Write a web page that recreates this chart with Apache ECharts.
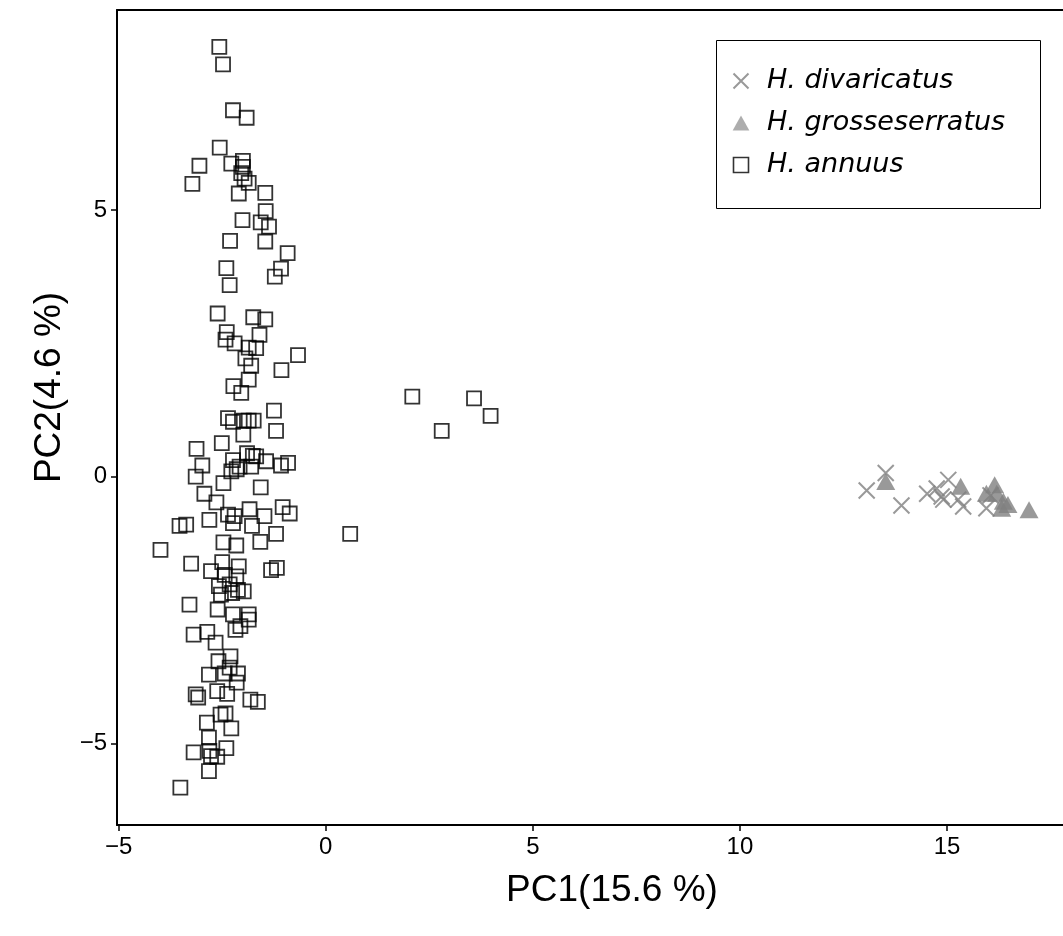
<!DOCTYPE html>
<html>
<head>
<meta charset="utf-8">
<script src="https://cdn.jsdelivr.net/npm/echarts@6/dist/echarts.min.js"></script>
<style>
  html, body { margin: 0; padding: 0; background: #fff; overflow: hidden; }
  #chart { width: 1063px; height: 936px; }
</style>
</head>
<body>
<div id="chart"></div>
<script>
// PCA scores: [PC1, PC2] for each sample
const annuus = [
  [-2.57, 8.06], [-2.48, 7.73], [-2.24, 6.87], [-1.91, 6.73], [-2.56, 6.17],
  [-3.05, 5.83], [-3.22, 5.49], [-2.28, 5.87], [-2.00, 5.92], [-2.00, 5.81],
  [-2.04, 5.69], [-1.96, 5.59], [-1.86, 5.51], [-2.10, 5.31], [-1.46, 5.32],
  [-1.45, 4.98], [-2.01, 4.81], [-1.57, 4.77], [-1.37, 4.69], [-2.31, 4.42],
  [-1.46, 4.41], [-0.92, 4.19], [-2.40, 3.91], [-1.08, 3.90], [-1.23, 3.75],
  [-2.32, 3.59], [-2.61, 3.06], [-1.75, 2.99], [-1.46, 2.95], [-2.39, 2.71],
  [-2.42, 2.57], [-1.60, 2.66], [-2.20, 2.50], [-1.86, 2.42], [-1.68, 2.41],
  [-1.94, 2.22], [-1.80, 2.08], [-0.67, 2.28], [-1.07, 2.00], [-1.86, 1.82],
  [-2.23, 1.70], [-2.04, 1.57], [-1.25, 1.24], [-2.36, 1.10], [-2.24, 1.03],
  [-1.98, 1.05], [-1.86, 1.05], [-1.74, 1.05], [-1.99, 0.79], [-1.20, 0.86],
  [-3.12, 0.52], [-2.51, 0.63], [-2.98, 0.21], [-3.14, 0.00], [-2.24, 0.31],
  [-1.90, 0.44], [-1.76, 0.39], [-1.68, 0.38], [-1.44, 0.29], [-1.08, 0.21],
  [-0.91, 0.26], [-2.15, 0.14], [-2.28, 0.10], [-2.08, 0.19], [-1.80, 0.19],
  [-2.47, -0.12], [-1.57, -0.20], [-2.93, -0.32], [-2.64, -0.48], [-1.84, -0.61],
  [-2.36, -0.71], [-2.20, -0.74], [-1.48, -0.74], [-1.04, -0.57], [-0.87, -0.69],
  [-2.81, -0.81], [-2.24, -0.87], [-1.78, -0.92], [-3.53, -0.92], [-3.37, -0.90],
  [-1.20, -1.07], [-2.47, -1.23], [-2.16, -1.29], [-1.58, -1.22], [-3.99, -1.37],
  [-3.25, -1.63], [-2.77, -1.77], [-2.50, -1.60], [-2.10, -1.68], [-1.32, -1.75],
  [-1.18, -1.71], [-2.44, -1.84], [-2.16, -1.87], [-2.58, -2.05], [-2.32, -2.02],
  [-2.12, -2.12], [-1.98, -2.15], [-2.53, -2.21], [-2.26, -2.18], [-3.29, -2.40],
  [-2.61, -2.49], [-2.24, -2.58], [-1.86, -2.58], [-3.19, -2.96], [-2.86, -2.91],
  [-2.66, -3.11], [-2.18, -2.87], [-2.06, -2.80], [-1.86, -2.68], [-2.30, -3.37],
  [-2.59, -3.46], [-2.32, -3.58], [-2.82, -3.71], [-2.44, -3.69], [-2.12, -3.69],
  [-2.15, -3.86], [-3.14, -4.08], [-3.08, -4.14], [-2.62, -4.02], [-2.38, -4.07],
  [-1.82, -4.18], [-1.64, -4.22], [-2.54, -4.46], [-2.42, -4.44], [-2.87, -4.61],
  [-2.28, -4.72], [-2.82, -4.89], [-3.19, -5.17], [-2.40, -5.09], [-2.81, -5.14],
  [-2.77, -5.24], [-2.62, -5.25], [-2.82, -5.52], [-3.51, -5.83],
  [2.09, 1.50], [3.58, 1.47], [3.98, 1.14], [2.80, 0.86], [0.59, -1.07]
];

const divaricatus = [
  [13.06, -0.26], [13.52, 0.07], [13.90, -0.54], [14.52, -0.32], [14.75, -0.22],
  [14.87, -0.37], [15.03, -0.06], [14.91, -0.43], [15.27, -0.43], [15.39, -0.56],
  [15.95, -0.59], [16.05, -0.35]
];

const grosseserratus = [
  [13.52, -0.09], [15.33, -0.18], [15.95, -0.31], [16.15, -0.15], [16.20, -0.31],
  [16.36, -0.46], [16.32, -0.59], [16.47, -0.52], [16.98, -0.62]
];

const xTicks = [-5, 0, 5, 10, 15];
const yTicks = [-5, 0, 5];

const speciesNames = ['H. divaricatus', 'H. grosseserratus', 'H. annuus'];

const GREY = '#808080';
const CROSS = 'path://M0,0L10,10M10,0L0,10';
const TRI = 'path://M5,0L10,9L0,9Z';
const SQUARE = 'path://M0,0L10,0L10,10L0,10Z';

const minus = v => String(v).replace('-', '\u2212');

const tickFont = { fontFamily: 'Liberation Sans, Arial, sans-serif', fontSize: 24, color: '#000' };
const titleFont = { fontFamily: 'Liberation Sans, Arial, sans-serif', fontSize: 37, color: '#000' };

const chart = echarts.init(document.getElementById('chart'), null, { renderer: 'canvas' });

chart.setOption({
  animation: false,
  backgroundColor: '#fff',
  grid: { left: 117, right: 0, top: 10, bottom: 111, containLabel: false },
  xAxis: [
    {
      type: 'value', min: -5.04, max: 17.8,
      splitLine: { show: false },
      axisLine: { show: true, onZero: false, lineStyle: { color: '#000', width: 2 } },
      axisTick: { show: true, length: 6, lineStyle: { color: '#000', width: 1.5 }, customValues: xTicks },
      axisLabel: { margin: 10, customValues: xTicks, formatter: minus, ...tickFont },
      name: 'PC1(15.6 %)', nameLocation: 'middle', nameGap: 47,
      // the panel is centred a little right of the visible area
      nameTextStyle: { ...titleFont, padding: [0, 0, 0, 44] }
    },
    {
      type: 'value', min: -5.04, max: 17.8, position: 'top',
      splitLine: { show: false }, axisTick: { show: false }, axisLabel: { show: false },
      axisLine: { show: true, onZero: false, lineStyle: { color: '#000', width: 2 } }
    }
  ],
  yAxis: {
    type: 'value', min: -6.53, max: 8.75,
    splitLine: { show: false },
    axisLine: { show: true, onZero: false, lineStyle: { color: '#000', width: 2 } },
    axisTick: { show: true, length: 6, lineStyle: { color: '#000', width: 1.5 }, customValues: yTicks },
    axisLabel: { margin: 10, customValues: yTicks, formatter: minus, ...tickFont },
    name: 'PC2(4.6 %)', nameLocation: 'middle', nameGap: 40,
    nameTextStyle: { ...titleFont, padding: [0, 0, 0, 60] }
  },
  legend: {
    orient: 'vertical',
    left: 731, top: 66,
    padding: 0,
    itemGap: 12,
    itemWidth: 18, itemHeight: 15,
    data: [
      { name: speciesNames[0], icon: CROSS, itemStyle: { color: 'none', borderColor: GREY, borderWidth: 2 } },
      { name: speciesNames[1], icon: TRI, itemStyle: { color: '#999', borderWidth: 0 } },
      { name: speciesNames[2], icon: SQUARE, itemStyle: { color: 'none', borderColor: '#000', borderWidth: 1.6 } }
    ],
    textStyle: {
      fontFamily: 'DejaVu Sans', fontStyle: 'italic', fontSize: 27, lineHeight: 30,
      color: '#000', padding: [0, 0, 0, 12]
    },
    selectedMode: false
  },
  graphic: [{
    type: 'rect', left: 714, top: 38, silent: true,
    shape: { width: 324, height: 168 },
    style: { fill: 'none', stroke: '#000', lineWidth: 1 }
  }],
  series: [
    {
      name: speciesNames[2], type: 'scatter', data: annuus,
      symbol: 'rect', symbolSize: 14,
      itemStyle: { color: 'rgba(0,0,0,0)', borderColor: '#000', borderWidth: 1.8 }
    },
    {
      name: speciesNames[0], type: 'scatter', data: divaricatus,
      symbol: CROSS, symbolSize: 16,
      itemStyle: { color: 'none', borderColor: GREY, borderWidth: 2 }
    },
    {
      name: speciesNames[1], type: 'scatter', data: grosseserratus,
      symbol: 'triangle', symbolSize: [19, 17],
      itemStyle: { color: GREY, borderWidth: 0 }
    }
  ]
});
</script>
</body>
</html>
